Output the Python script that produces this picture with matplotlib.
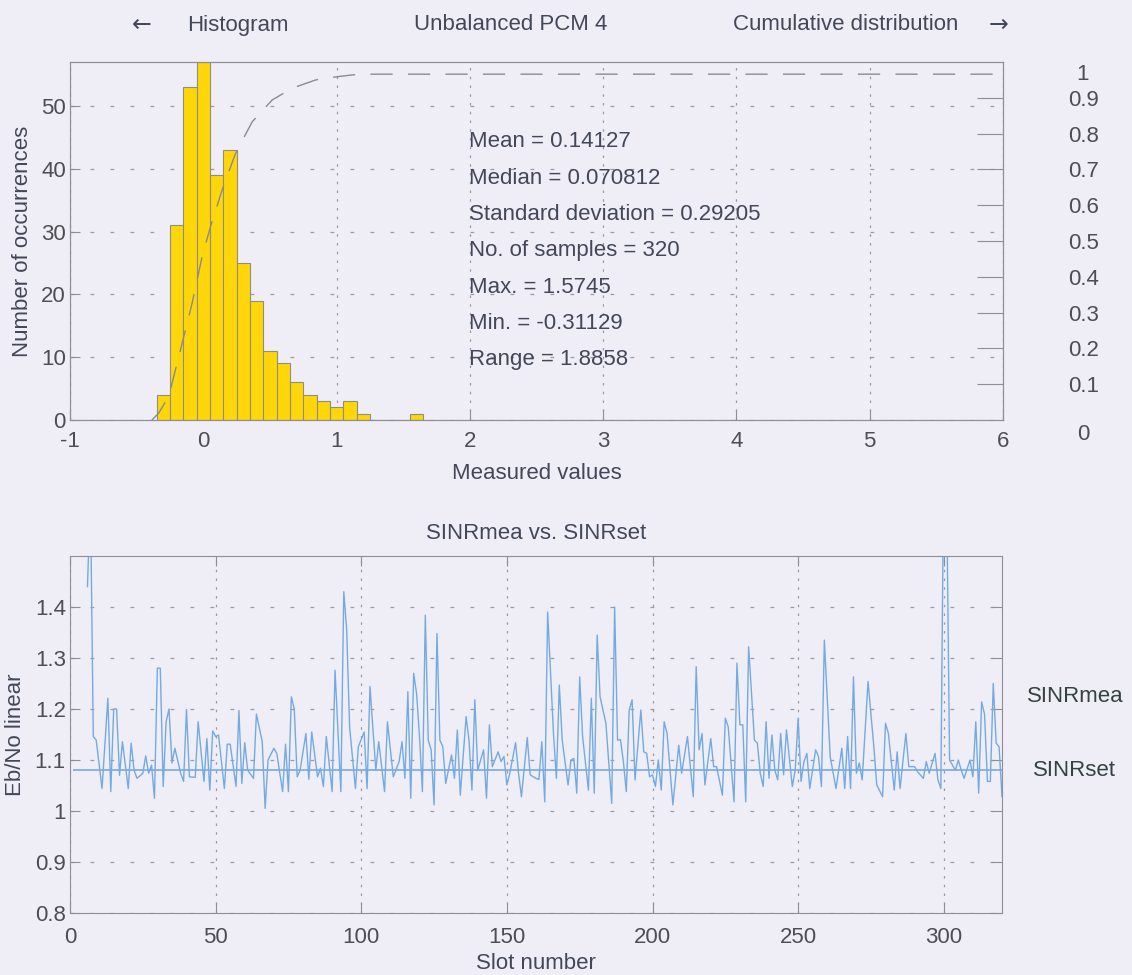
import numpy as np
import matplotlib
matplotlib.use("Agg")
import matplotlib.pyplot as plt
from matplotlib.transforms import blended_transform_factory

# Histograma de los valores medidos (centros de clase y ocurrencias)
bin_centers = [-0.3, -0.2, -0.1, 0.0, 0.1, 0.2, 0.3, 0.4, 0.5, 0.6,
               0.7, 0.8, 0.9, 1.0, 1.1, 1.2, 1.3, 1.4, 1.5, 1.6]
counts = [4, 31, 53, 57, 39, 43, 25, 19, 11, 9,
          6, 4, 3, 2, 3, 1, 0, 0, 0, 1]
bin_width = 0.1

# Distribucion acumulada (eje derecho)
cdf_x = [-0.385, -0.335, -0.26, -0.171, -0.084, -0.009, 0.054, 0.141, 0.242,
         0.367, 0.517, 0.668, 0.844, 1.006, 1.17, 6.0]
cdf_y = [0.0, 0.019, 0.065, 0.196, 0.326, 0.456, 0.54, 0.642, 0.745,
         0.833, 0.894, 0.927, 0.95, 0.959, 0.966, 0.966]

stats_lines = ["Mean = 0.14127", "Median = 0.070812", "Standard deviation = 0.29205",
               "No. of samples = 320", "Max. = 1.5745", "Min. = -0.31129", "Range = 1.8858"]

# SINR medido por slot
slots = [6, 7, 8, 9, 11, 13, 14, 15, 16, 17, 18, 20, 21, 22, 23, 25, 26, 27, 28, 29,
         30, 31, 32, 33, 34, 35, 36, 38, 39, 40, 41, 43, 44, 46, 47, 48, 49, 50, 51, 53,
         54, 55, 57, 58, 59, 60, 61, 63, 64, 66, 67, 68, 70, 71, 73, 74, 75, 76, 77, 78,
         79, 81, 82, 83, 85, 86, 87, 88, 90, 91, 93, 94, 95, 96, 98, 99, 101, 102, 103, 105,
         106, 108, 109, 111, 113, 114, 115, 116, 117, 118, 119, 120, 121, 122, 123, 124, 125, 126, 127, 128,
         129, 131, 132, 133, 134, 136, 137, 138, 139, 140, 142, 143, 144, 145, 147, 148, 149, 150, 151, 153,
         154, 155, 157, 158, 160, 161, 162, 163, 164, 166, 167, 168, 169, 171, 172, 173, 174, 175, 176, 178,
         179, 180, 181, 182, 184, 186, 187, 188, 189, 190, 191, 192, 193, 194, 196, 197, 198, 199, 200, 201,
         202, 203, 204, 205, 207, 209, 210, 212, 214, 215, 216, 217, 218, 220, 221, 222, 224, 225, 226, 228,
         229, 230, 231, 232, 233, 235, 236, 237, 238, 239, 240, 241, 242, 243, 244, 245, 246, 248, 249, 250,
         251, 252, 253, 254, 256, 257, 258, 259, 261, 263, 265, 266, 267, 268, 269, 270, 271, 272, 274, 276,
         277, 279, 280, 281, 283, 284, 285, 287, 288, 290, 291, 293, 294, 295, 297, 298, 299, 300, 301, 302,
         304, 305, 306, 307, 309, 310, 311, 312, 313, 314, 315, 316, 317, 318, 319, 320]
sinr_mea = [1.44, 1.62, 1.146, 1.139, 1.044, 1.221, 1.038, 1.20, 1.20, 1.07, 1.136, 1.044, 1.133, 1.08, 1.064, 1.074, 1.108, 1.074, 1.09, 1.025,
            1.28, 1.28, 1.048, 1.175, 1.20, 1.094, 1.123, 1.074, 1.058, 1.199, 1.067, 1.066, 1.175, 1.058, 1.142, 1.041, 1.157, 1.146, 1.149, 1.044,
            1.131, 1.131, 1.048, 1.197, 1.054, 1.134, 1.08, 1.064, 1.19, 1.136, 1.005, 1.10, 1.123, 1.113, 1.038, 1.131, 1.038, 1.224, 1.20, 1.067,
            1.08, 1.152, 1.062, 1.155, 1.067, 1.084, 1.048, 1.146, 1.038, 1.276, 1.038, 1.43, 1.355, 1.165, 1.044, 1.126, 1.155, 1.044, 1.244, 1.08,
            1.136, 1.038, 1.175, 1.067, 1.097, 1.136, 1.064, 1.234, 1.025, 1.27, 1.23, 1.146, 1.038, 1.384, 1.139, 1.12, 1.012, 1.348, 1.139, 1.126,
            1.054, 1.11, 1.064, 1.159, 1.031, 1.185, 1.139, 1.041, 1.218, 1.08, 1.12, 1.025, 1.169, 1.087, 1.116, 1.097, 1.107, 1.051, 1.074, 1.134,
            1.074, 1.028, 1.144, 1.071, 1.064, 1.062, 1.136, 1.018, 1.39, 1.152, 1.064, 1.247, 1.139, 1.051, 1.10, 1.103, 1.035, 1.263, 1.146, 1.041,
            1.221, 1.035, 1.345, 1.224, 1.172, 1.015, 1.40, 1.139, 1.14, 1.097, 1.038, 1.198, 1.218, 1.061, 1.198, 1.116, 1.113, 1.067, 1.071, 1.048,
            1.10, 1.041, 1.175, 1.152, 1.012, 1.129, 1.074, 1.146, 1.028, 1.283, 1.12, 1.152, 1.051, 1.142, 1.087, 1.087, 1.031, 1.182, 1.165, 1.018,
            1.29, 1.169, 1.169, 1.018, 1.322, 1.139, 1.133, 1.074, 1.048, 1.175, 1.064, 1.149, 1.08, 1.061, 1.152, 1.071, 1.159, 1.048, 1.08, 1.182,
            1.058, 1.097, 1.113, 1.044, 1.12, 1.107, 1.048, 1.335, 1.107, 1.044, 1.123, 1.044, 1.146, 1.044, 1.263, 1.074, 1.094, 1.061, 1.254, 1.126,
            1.051, 1.028, 1.172, 1.152, 1.041, 1.116, 1.044, 1.152, 1.087, 1.087, 1.077, 1.064, 1.097, 1.074, 1.113, 1.061, 1.044, 1.68, 1.62, 1.10,
            1.08, 1.10, 1.08, 1.064, 1.10, 1.067, 1.175, 1.035, 1.214, 1.19, 1.058, 1.058, 1.25, 1.133, 1.126, 1.028]
sinr_set = 1.08
n_slots = 320

bg = "#efeef7"
txt = "#434758"
tick_col = "#4d4d52"
grid_col = "#9a9aa2"
spine_col = "#8e8e96"
line_blue = "#74aae2"

plt.rcParams["font.family"] = ["Liberation Sans", "DejaVu Sans"]
plt.rcParams["font.size"] = 16
plt.rcParams["axes.unicode_minus"] = False

fig = plt.figure(figsize=(11.32, 9.75), dpi=100, facecolor=bg)

# ---------- histograma + distribucion acumulada ----------
ax1 = fig.add_axes([70 / 1132, 1 - 420 / 975, 933 / 1132, 358 / 975])
ax1.set_facecolor(bg)
ax1.bar(bin_centers, counts, width=bin_width, color="#ffd60a",
        edgecolor="#8f8f80", linewidth=0.8, zorder=2)
ax1.set_xlim(-1, 6)
ax1.set_ylim(0, 57)
ax1.set_xticks(range(-1, 7))
ax1.set_yticks(range(0, 60, 10))
ax1.set_xlabel("Measured values", color=txt, labelpad=8)
ax1.set_ylabel("Number of occurrences", color=txt, labelpad=6)
ax1.tick_params(direction="in", length=7, color=spine_col, labelcolor=tick_col,
                right=False, top=False)
ax1.tick_params(axis="x", pad=8)
ax1.tick_params(axis="y", pad=3)
ax1.yaxis.grid(True, linestyle=(0, (3, 13)), color=grid_col, linewidth=0.9)
ax1.xaxis.grid(True, linestyle=(0, (2, 5)), color=grid_col, linewidth=0.9)
ax1.set_axisbelow(True)
for s in ax1.spines.values():
    s.set_color(spine_col)

# texto de estadisticas
for i, line in enumerate(stats_lines):
    ax1.text(1.99, 0.777 - i * 0.1015, line, transform=blended_transform_factory(ax1.transData, ax1.transAxes),
             fontsize=16, color=txt, va="center", ha="left", zorder=5)

ax2 = ax1.twinx()
ax2.plot(cdf_x, cdf_y, color="#8a8a90", linewidth=1.0, linestyle=(0, (16, 11)))
ax2.set_ylim(0, 1)
ax2.set_yticks([0.1, 0.2, 0.3, 0.4, 0.5, 0.6, 0.7, 0.8, 0.9])
ax2.set_yticklabels(["0.1", "0.2", "0.3", "0.4", "0.5", "0.6", "0.7", "0.8", "0.9"])
ax2.tick_params(axis="y", direction="in", length=19, color=spine_col,
                labelcolor=tick_col, pad=47)
for s in ax2.spines.values():
    s.set_color(spine_col)
tr = blended_transform_factory(ax2.transAxes, ax2.transData)
ax2.text(1.0857, max(cdf_y), "1", transform=tr, ha="center", va="center", color=tick_col, fontsize=16)
ax2.text(1.0857, -0.04, "0", transform=tr, ha="center", va="center", color=tick_col, fontsize=16)

# cabecera
fig.text(142 / 1132, 1 - 25 / 975, "\u2190", ha="center", va="center", color=txt,
         fontsize=17, family="DejaVu Sans")
fig.text(187 / 1132, 1 - 25 / 975, "Histogram", ha="left", va="center", color=txt, fontsize=16)
fig.text(511 / 1132, 1 - 25 / 975, "Unbalanced PCM 4", ha="center", va="center", color=txt, fontsize=16)
fig.text(733 / 1132, 1 - 25 / 975, "Cumulative distribution", ha="left", va="center", color=txt, fontsize=16)
fig.text(999 / 1132, 1 - 25 / 975, "\u2192", ha="center", va="center", color=txt,
         fontsize=17, family="DejaVu Sans")

# ---------- SINR medido vs. fijado ----------
ax3 = fig.add_axes([70 / 1132, 1 - 913 / 975, 932 / 1132, 357 / 975])
ax3.set_facecolor(bg)
ax3.plot(slots, sinr_mea, color=line_blue, linewidth=1.0)
ax3.hlines(sinr_set, 1, n_slots, color=line_blue, linewidth=1.2)
ax3.set_xlim(0, n_slots)
ax3.set_ylim(0.8, 1.5)
ax3.set_xticks(range(0, 301, 50))
ax3.set_yticks([0.8, 0.9, 1.0, 1.1, 1.2, 1.3, 1.4])
ax3.set_yticklabels(["0.8", "0.9", "1", "1.1", "1.2", "1.3", "1.4"])
ax3.set_title("SINRmea vs. SINRset", color=txt, fontsize=16, pad=12)
ax3.set_xlabel("Slot number", color=txt, labelpad=4)
ax3.set_ylabel("Eb/No linear", color=txt, labelpad=6)
ax3.tick_params(direction="in", length=7, color=spine_col, labelcolor=tick_col,
                right=True, top=True)
ax3.tick_params(axis="x", pad=10)
ax3.tick_params(axis="y", pad=3)
ax3.yaxis.grid(True, linestyle=(0, (3, 13)), color=grid_col, linewidth=0.9)
ax3.xaxis.grid(True, linestyle=(0, (2, 5)), color=grid_col, linewidth=0.9)
ax3.set_axisbelow(True)
for s in ax3.spines.values():
    s.set_color(spine_col)

fig.text(1027 / 1132, 1 - 697 / 975, "SINRmea", ha="left", va="center", color="#33433f", fontsize=16)
fig.text(1033 / 1132, 1 - 770 / 975, "SINRset", ha="left", va="center", color="#33433f", fontsize=16)

fig.savefig("out.png", dpi=100, facecolor=bg)
